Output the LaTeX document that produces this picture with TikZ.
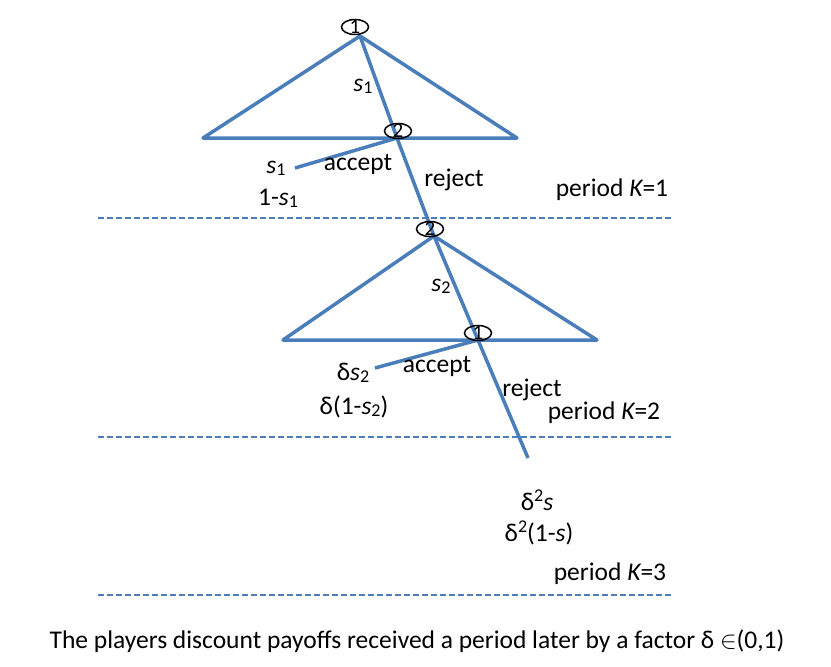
\documentclass[tikz,border=0pt]{standalone}
\usepackage{fontspec}
\setmainfont{Carlito}
\usetikzlibrary{shapes.geometric}
\definecolor{treeblue}{RGB}{74,126,187}
\newcommand{\lowidx}[1]{\raisebox{-0.15ex}{\fontsize{18}{18}\selectfont #1}}
\newcommand{\highidx}[1]{\raisebox{0.75ex}{\fontsize{18}{18}\selectfont #1}}
\tikzset{
  branch/.style={draw=treeblue, line width=3.5pt, line join=round},
  periodline/.style={draw=treeblue, line width=1.8pt, dash pattern=on 6pt off 3pt},
  player/.style={ellipse, draw, line width=1.5pt, inner sep=-1.5pt, minimum width=27pt, minimum height=15pt, font=\fontsize{21}{21}\selectfont},
  lbl/.style={font=\fontsize{25.5}{28}\selectfont, inner sep=1pt},
}
\begin{document}
\begin{tikzpicture}[x=1pt,y=-1pt]
  \useasboundingbox (0,0) rectangle (831,667);
  % Points of the tree
  \coordinate (top1) at (360,36);
  \coordinate (left1) at (203,138);
  \coordinate (right1) at (517,138);
  \coordinate (acc1) at (397,138);
  \coordinate (end1) at (295,168);
  \coordinate (top2) at (434,236);
  \coordinate (left2) at (283,340);
  \coordinate (right2) at (597,340);
  \coordinate (acc2) at (478,340);
  \coordinate (end2) at (375,368);
  \coordinate (end3) at (528,458);

  % Branches
  \draw[branch] (left1) -- (top1) -- (right1) -- cycle;
  \draw[branch] (top1) -- (acc1) -- (top2);
  \draw[branch] (acc1) -- (end1);
  \draw[branch] (left2) -- (top2) -- (right2) -- cycle;
  \draw[branch] (top2) -- (acc2) -- (end3);
  \draw[branch] (acc2) -- (end2);

  % Periods
  \foreach \y in {218,437,595}
    \draw[periodline] (98,\y) -- (672,\y);

  % Players
  \node[player] (pone) at (355,27) {1};
  \node[player] (ptwo) at (398,131) {2};
  \node[player] (ptwob) at (430,229) {2};
  \node[player] (poneb) at (478,333) {1};

  % Labels
  \node[lbl] (offer1) at (363,86) {{\itshape s}\lowidx{1}};
  \node[lbl] (accept1) at (358,164) {accept};
  \node[lbl] (reject1) at (454,180) {reject};
  \node[lbl] (payA1) at (276,168) {{\itshape s}\lowidx{1}};
  \node[lbl] (payB1) at (278,198) {1-{\itshape s}\lowidx{1}};
  \node[lbl] (period1) at (612,190) {period {\itshape K}=1};

  \node[lbl] (offer2) at (441,286) {{\itshape s}\lowidx{2}};
  \node[lbl] (accept2) at (437,366) {accept};
  \node[lbl] (reject2) at (532,390) {reject};
  \node[lbl] (payA2) at (353,373) {δ{\itshape s}\lowidx{2}};
  \node[lbl] (payB2) at (354,407) {δ(1-{\itshape s}\lowidx{2})};
  \node[lbl] (period2) at (604,413) {period {\itshape K}=2};

  \node[lbl] (payA3) at (537,500) {δ\highidx{2}{\itshape s}};
  \node[lbl] (payB3) at (539,533) {δ\highidx{2}(1-{\itshape s})};
  \node[lbl] (period3) at (610,574) {period {\itshape K}=3};

  \node[lbl] (caption) at (417,641) {The players discount payoffs received a period later by a factor δ $\in$(0,1)};
\end{tikzpicture}
\end{document}
